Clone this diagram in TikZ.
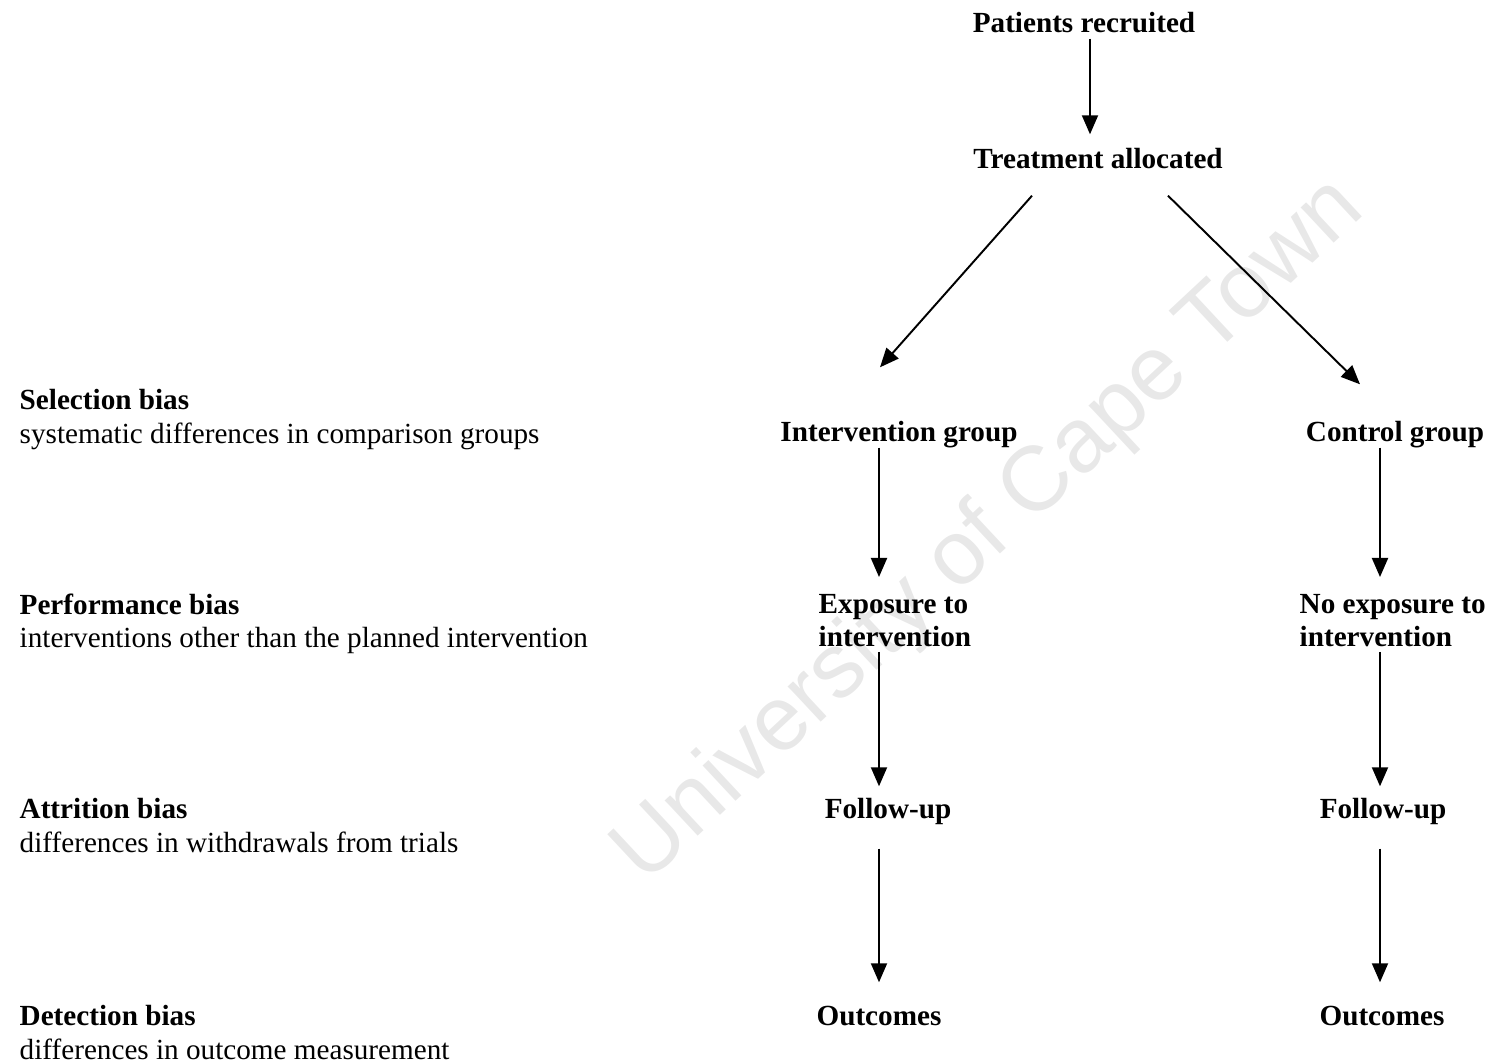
\documentclass[tikz,border=0pt]{standalone}
\usepackage{fontspec}
\setmainfont{Liberation Serif}
\newfontfamily\wmfont{Liberation Sans}
\usetikzlibrary{arrows.meta,calc}
\tikzset{
  box/.style={font=\fontsize{8.3}{9.4}\selectfont\bfseries, inner sep=0pt,
    text height=0.19cm, text depth=0.06cm, anchor=base},
  twobox/.style={font=\fontsize{8.3}{9.4}\selectfont\bfseries, inner sep=0pt,
    align=left, anchor=north west},
  bias/.style={font=\fontsize{8.3}{9.4}\selectfont, inner sep=0pt,
    align=left, anchor=north west},
  arr/.style={-{Triangle[length=0.19cm,width=0.16cm]}, line width=0.55pt},
}
\begin{document}
\begin{tikzpicture}[x=0.01cm, y=-0.01cm]
  \useasboundingbox (0,0) rectangle (1490,1063);
  % watermark
  \node[rotate=43, text=black!9, font=\wmfont\fontsize{26}{26}\selectfont] (wm) at (990,532) {University of Cape Town};

  % bias labels
  \node[bias] (selb) at (19,389) {\textbf{Selection bias}\\systematic differences in comparison groups};
  \node[bias] (perb) at (19,593) {\textbf{Performance bias}\\interventions other than the planned intervention};
  \node[bias] (attb) at (19,798) {\textbf{Attrition bias}\\differences in withdrawals from trials};
  \node[bias] (detb) at (19,1005) {\textbf{Detection bias}\\differences in outcome measurement};

  % flow
  \node[box] (pr) at (1084,32) {Patients recruited};
  \node[box] (ta) at (1098,168) {Treatment allocated};
  \node[box] (ig) at (899,441) {Intervention group};
  \node[box] (cg) at (1395,441) {Control group};
  \node[twobox] (ei) at (818,594) {Exposure to\\intervention};
  \node[twobox] (ne) at (1299,594) {No exposure to\\intervention};
  \node[box] (fi) at (888,818) {Follow-up};
  \node[box] (fc) at (1383,818) {Follow-up};
  \node[box] (oi) at (879,1025) {Outcomes};
  \node[box] (oc) at (1382,1025) {Outcomes};

  \coordinate (mcol) at (1090,0);
  \coordinate (lcol) at (879,0);
  \coordinate (rcol) at (1380,0);

  \draw[arr, shorten >=0.14cm] (pr.south -| mcol) -- (ta.north -| mcol);
  \draw[arr] ($(ta.south)+(-66,21)$) -- ($(ig.north)+(-19,-54)$);
  \draw[arr] ($(ta.south)+(70,21)$) -- ($(cg.north)+(-35,-37)$);

  \draw[arr, shorten >=0.17cm] (ig.south -| lcol) -- (ei.north -| lcol);
  \draw[arr, shorten >=0.17cm] (cg.south -| rcol) -- (ne.north -| rcol);
  \draw[arr, shorten <=0.04cm, shorten >=0.12cm] (ei.south -| lcol) -- (fi.north -| lcol);
  \draw[arr, shorten <=0.04cm, shorten >=0.12cm] (ne.south -| rcol) -- (fc.north -| rcol);
  \draw[arr, shorten <=0.24cm, shorten >=0.23cm] (fi.south -| lcol) -- (oi.north -| lcol);
  \draw[arr, shorten <=0.24cm, shorten >=0.23cm] (fc.south -| rcol) -- (oc.north -| rcol);
\end{tikzpicture}
\end{document}
